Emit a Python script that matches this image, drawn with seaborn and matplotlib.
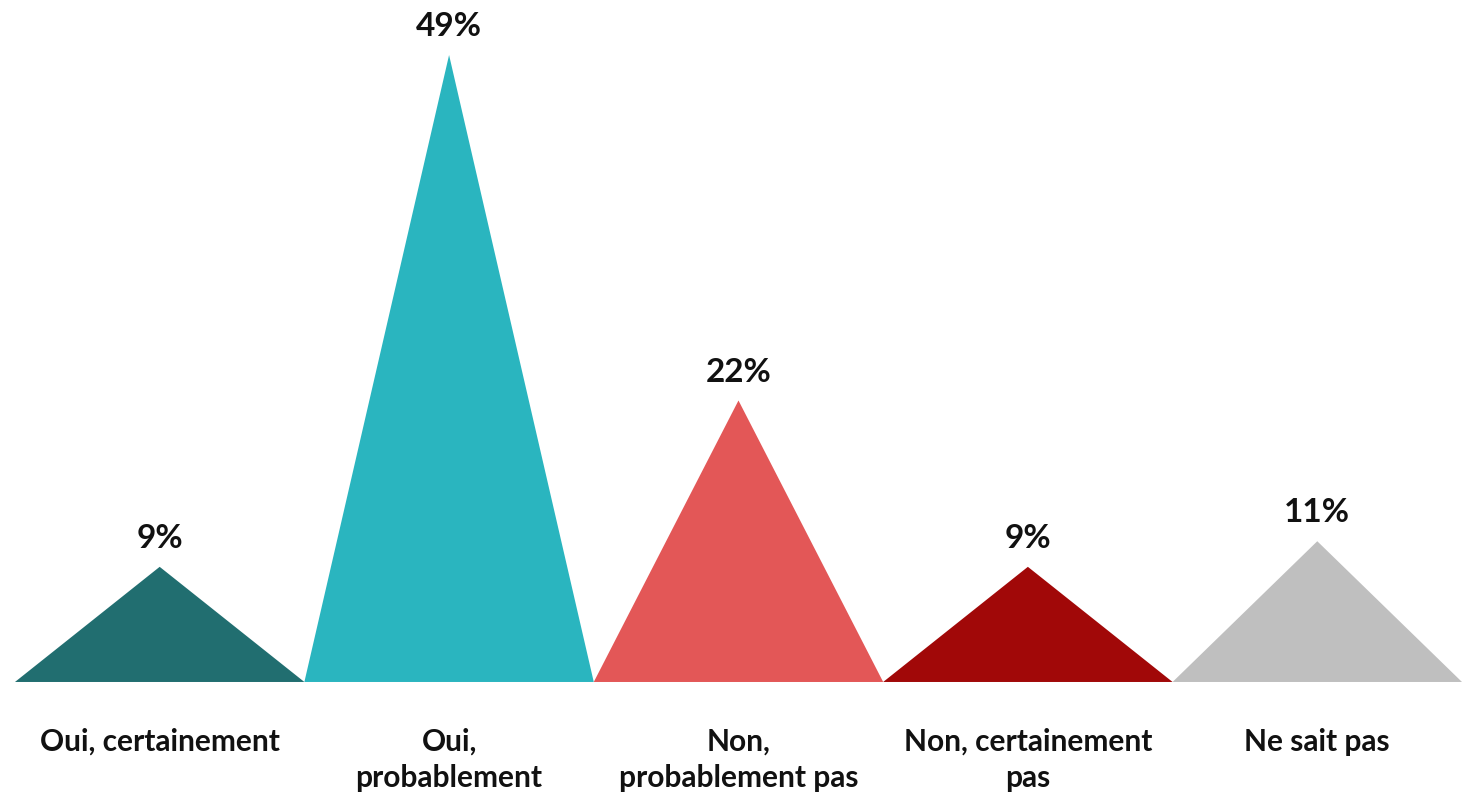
import matplotlib.pyplot as plt
import seaborn as sns

# données
categories = ['Oui, certainement', 'Oui,\nprobablement', 'Non,\nprobablement pas',
              'Non, certainement\npas', 'Ne sait pas']
values = [9, 49, 22, 9, 11]
colors = ['#216E70', '#2AB5BF', '#E35757', '#A10808', '#BFBFBF']

sns.set_style('white')
plt.rcParams['font.family'] = ['Lato', 'DejaVu Sans']

fig = plt.figure(figsize=(14.68, 7.93), dpi=100)
ax = fig.add_axes([0.0102, 0.14, 0.9857, 0.839])

# triangles à partir des valeurs
for i, (v, c) in enumerate(zip(values, colors)):
    ax.fill([i - 0.5, i, i + 0.5], [0, v, 0], color=c, linewidth=0)
    ax.annotate(f'{v}%', xy=(i, v), xytext=(0, 10), textcoords='offset points',
                ha='center', va='bottom', fontsize=24, fontweight='bold', color='#111111')

ax.set_xlim(-0.5, len(values) - 0.5)
ax.set_ylim(0, 52)
ax.set_xticks(range(len(categories)))
ax.set_xticklabels(categories, fontsize=21.5, fontweight='bold', color='#111111',
                   va='top', linespacing=1.35)
ax.tick_params(axis='x', length=0, pad=33)
ax.set_yticks([])
sns.despine(ax=ax, left=True, top=True, right=True, bottom=True)

plt.savefig('out.png', dpi=100)
